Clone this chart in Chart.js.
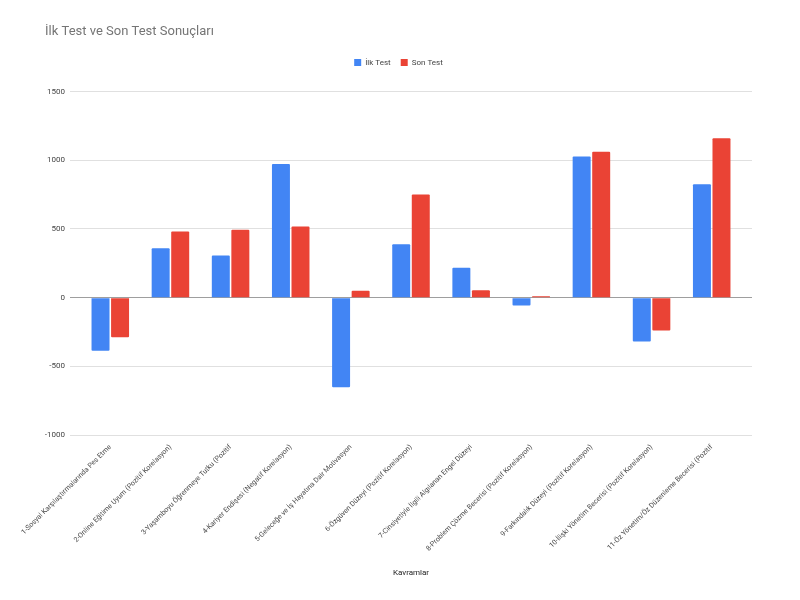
<!DOCTYPE html>
<html>
<head>
<meta charset="utf-8">
<script src="https://cdn.jsdelivr.net/npm/chart.js@4"></script>
<style>
  html, body { margin: 0; padding: 0; background: #fff; }
  #wrap { width: 800px; height: 600px; }
</style>
</head>
<body>
<div id="wrap"><canvas id="chart1"></canvas></div>
<script>
// categories (labels are cut off the same way as in the original sheet chart)
var kavramlar = [
  "1-Sosyal Karşılaştırmalarında Pes Etme",
  "2-Online Eğitime Uyum (Pozitif Korelasyon)",
  "3-Yaşamboyu Öğrenmeye Tutku (Pozitif",
  "4-Kariyer Endişesi (Negatif Korelasyon)",
  "5-Geleceğe ve İş Hayatına Dair Motivasyon",
  "6-Özgüven Düzeyi (Pozitif Korelasyon)",
  "7-Cinsiyetiyle İlgili Algılanan Engel Düzeyi",
  "8-Problem Çözme Becerisi (Pozitif Korelasyon)",
  "9-Farkındalık Düzeyi (Pozitif Korelasyon)",
  "10-İlişki Yönetim Becerisi (Pozitif Korelasyon)",
  "11-Öz Yönetim/Öz Düzenleme Becerisi (Pozitif"
];

var ilkTest = [-386, 359, 306, 973, -653, 388, 218, -58, 1027, -320, 825];
var sonTest = [-289, 481, 495, 517, 51, 750, 53, 10, 1063, -240, 1160];

var yMin = -1000, yMax = 1500, yStep = 500;

var FONT = "Roboto, 'Liberation Sans', Arial, sans-serif";

// extra gap under the legend, like the sheets chart
var legendGap = {
  id: 'legendGap',
  beforeInit: function (chart) {
    var fit = chart.legend.fit;
    chart.legend.fit = function () {
      fit.bind(chart.legend)();
      this.height += 15;
    };
  }
};

var ctx1 = document.getElementById('chart1').getContext('2d');
var chart1 = new Chart(ctx1, {
  type: 'bar',
  data: {
    labels: kavramlar,
    datasets: [
      { label: 'İlk Test', data: ilkTest, backgroundColor: '#4285F4', borderRadius: 1 },
      { label: 'Son Test', data: sonTest, backgroundColor: '#EA4335', borderRadius: 1 }
    ]
  },
  plugins: [legendGap],
  options: {
    responsive: true,
    maintainAspectRatio: false,
    animation: false,
    datasets: { bar: { categoryPercentage: 0.65, barPercentage: 0.92 } },
    layout: { padding: { top: 24, left: 45, right: 48, bottom: 18 } },
    plugins: {
      title: {
        display: true,
        text: 'İlk Test ve Son Test Sonuçları',
        align: 'start',
        color: '#757575',
        font: { family: FONT, size: 13, weight: 'normal' },
        padding: { top: 0, bottom: 9 }
      },
      legend: {
        position: 'top',
        labels: {
          boxWidth: 7, boxHeight: 7, padding: 10,
          color: '#444',
          font: { family: FONT, size: 8 }
        }
      },
      tooltip: { enabled: false }
    },
    scales: {
      x: {
        grid: { display: false },
        border: { display: false },
        ticks: {
          autoSkip: false, minRotation: 45, maxRotation: 45, padding: 0,
          color: '#4a4a4a', font: { family: FONT, size: 7.1 }
        },
        title: {
          display: true, text: 'Kavramlar', color: '#222',
          font: { family: FONT, size: 8 }
        },
        // google sheets leaves a bit of room before the first / after the last category
        afterBuildTicks: function (s) { s._startValue -= 0.17; s._valueRange += 0.34; },
        afterFit: function (s) { s.height = 147; }
      },
      y: {
        min: yMin, max: yMax,
        border: { display: false },
        grid: {
          drawTicks: false,
          color: function (c) { return c.tick && c.tick.value === 0 ? '#9e9e9e' : '#e0e0e0'; }
        },
        ticks: {
          stepSize: yStep, padding: 5,
          color: '#444', font: { family: FONT, size: 8 },
          callback: function (v) { return String(v); }
        },
        afterFit: function (s) { s.width = 25; }
      }
    }
  }
});
</script>
</body>
</html>
